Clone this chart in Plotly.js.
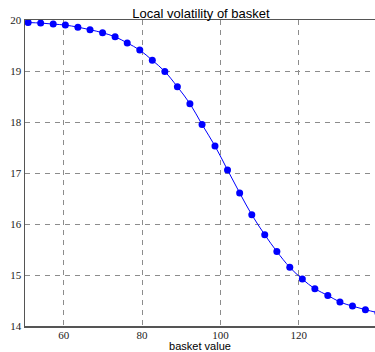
<!DOCTYPE html>
<html>
<head>
<meta charset="utf-8">
<script src="https://cdn.plot.ly/plotly-3.0.1.min.js"></script>
<style>html,body{margin:0;padding:0;background:#fff;}#chart{width:375px;height:352px;}</style>
</head>
<body>
<div id="chart"></div>
<script>
const basketValue = [50.9, 54.1, 57.3, 60.4, 63.6, 66.7, 69.9, 73.1, 76.2, 79.4,
  82.6, 85.8, 89.0, 92.2, 95.3, 98.6, 101.8, 104.9, 108.0, 111.3,
  114.4, 117.7, 120.9, 124.1, 127.4, 130.5, 133.7, 137.0, 140.2];
const localVol = [19.95, 19.94, 19.92, 19.90, 19.86, 19.81, 19.75, 19.67, 19.55, 19.41,
  19.21, 18.99, 18.69, 18.36, 17.95, 17.53, 17.06, 16.61, 16.18, 15.79,
  15.46, 15.15, 14.92, 14.73, 14.60, 14.47, 14.39, 14.32, 14.26];
const xTicks = [60, 80, 100, 120];
const yTicks = [14, 15, 16, 17, 18, 19, 20];
const titleText = "Local volatility of basket";
const xTitle = "basket value";

const trace = {
  x: basketValue, y: localVol,
  type: 'scatter', mode: 'lines+markers',
  line: {color: '#0000ff', width: 1, shape: 'spline'},
  marker: {color: '#0000ff', size: 7},
  cliponaxis: true,
  hoverinfo: 'skip'
};

const gridCommon = {
  showgrid: true, gridcolor: '#8c8c8c', gridwidth: 1, griddash: '5px,5px',
  zeroline: false, ticks: '',
  tickfont: {family: 'Liberation Serif, DejaVu Serif, serif', size: 11, color: '#222'}
};

const layout = {
  width: 375, height: 352,
  margin: {l: 25, r: 0, t: 20, b: 26, pad: 0},
  paper_bgcolor: '#fff', plot_bgcolor: '#fff',
  showlegend: false,
  title: {text: titleText, x: 0.536, xanchor: 'center', y: 0.962, yanchor: 'middle', yref: 'container',
    font: {family: 'Liberation Sans, Arial, sans-serif', size: 13, color: '#000'}},
  xaxis: Object.assign({}, gridCommon, {
    range: [50.1, 139.45], tickvals: xTicks, ticktext: xTicks.map(String),
    showline: true, mirror: true, linecolor: '#555', linewidth: 1.5,
    automargin: false, ticklabelstandoff: -2,
    title: {text: xTitle, standoff: 3, font: {family: 'Liberation Sans, Arial, sans-serif', size: 11, color: '#000'}}
  }),
  yaxis: Object.assign({}, gridCommon, {
    range: [14, 20], tickvals: yTicks, ticktext: yTicks.map(String),
    showline: true, linecolor: '#555', linewidth: 1.5,
    automargin: false
  })
};

Plotly.newPlot('chart', [trace], layout, {staticPlot: true, displayModeBar: false});
</script>
</body>
</html>
